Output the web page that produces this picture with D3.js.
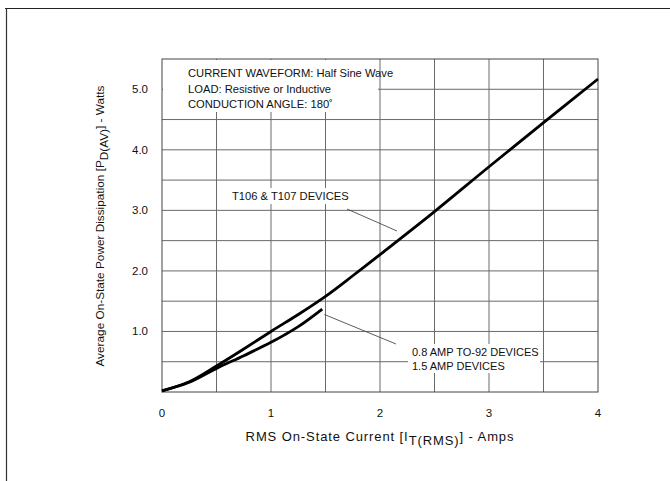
<!DOCTYPE html>
<html>
<head>
<meta charset="utf-8">
<script src="https://cdn.jsdelivr.net/npm/d3@7"></script>
<style>
  html, body { margin: 0; padding: 0; background: #fff; }
  svg { display: block; }
  text { font-family: "Liberation Sans", Arial, Helvetica, sans-serif; fill: #111; }
</style>
</head>
<body>
<svg id="chart" width="670" height="481"></svg>
<script>
// ---- data ----
const xTicks = [0, 1, 2, 3, 4];
const yTicks = [1.0, 2.0, 3.0, 4.0, 5.0];
const xGrid = [0.5, 1, 1.5, 2, 2.5, 3, 3.5];
const yGrid = [0.5, 1, 1.5, 2, 2.5, 3, 3.5, 4, 4.5, 5];

const t106Current = [0, 0.25, 0.5, 0.75, 1.0, 1.25, 1.5, 1.75, 2.0, 2.5, 3.0, 3.5, 4.0];
const t106Power   = [0.02, 0.17, 0.43, 0.71, 1.0, 1.28, 1.58, 1.92, 2.27, 2.98, 3.72, 4.45, 5.17];

const to92Current = [0, 0.25, 0.5, 0.75, 1.0, 1.25, 1.47];
const to92Power   = [0.02, 0.16, 0.39, 0.6, 0.82, 1.08, 1.37];

const conditionLines = ["CURRENT WAVEFORM: Half Sine Wave", "LOAD: Resistive or Inductive", "CONDUCTION ANGLE: 180˚"];
const t106Label = "T106 & T107 DEVICES";
const to92Labels = ["0.8 AMP TO-92 DEVICES", "1.5 AMP DEVICES"];

// ---- layout ----
const svg = d3.select("#chart");
const L = 162, R = 598, T = 59, B = 392;
const x = d3.scaleLinear().domain([0, 4]).range([L, R]);
const y = d3.scaleLinear().domain([0, 5.5]).range([B, T]);

// outer frame (scanned page edge)
svg.append("line").attr("x1", 5).attr("x2", 670).attr("y1", 8.5).attr("y2", 8.5)
  .attr("stroke", "#222").attr("stroke-width", 1.2);
svg.append("line").attr("x1", 6.5).attr("x2", 6.5).attr("y1", 8).attr("y2", 481)
  .attr("stroke", "#333").attr("stroke-width", 1.2);

// grid
const g = svg.append("g");
g.selectAll(".vg").data(xGrid).join("line")
  .attr("x1", d => x(d)).attr("x2", d => x(d)).attr("y1", T).attr("y2", B)
  .attr("stroke", "#6a6a6a").attr("stroke-width", 1);
g.selectAll(".hg").data(yGrid).join("line")
  .attr("x1", L).attr("x2", R).attr("y1", d => y(d)).attr("y2", d => y(d))
  .attr("stroke", "#6a6a6a").attr("stroke-width", 1);

// plot border
svg.append("rect").attr("x", L).attr("y", T).attr("width", R - L).attr("height", B - T)
  .attr("fill", "none").attr("stroke", "#444").attr("stroke-width", 1);

// white boxes behind annotations
function whiteBox(x0, y0, w, h) {
  svg.append("rect").attr("x", x0).attr("y", y0).attr("width", w).attr("height", h).attr("fill", "#fff");
}
whiteBox(L + 1, T + 1, 215, 52);
whiteBox(226, 188, 150, 16);
whiteBox(408, 344, 132, 29);

// condition text
svg.append("g").selectAll("text").data(conditionLines).join("text")
  .attr("x", 188).attr("y", (d, i) => 77 + i * 15.5)
  .attr("font-size", 11.2).text(d => d);

// curves
const line = d3.line().x(d => x(d[0])).y(d => y(d[1])).curve(d3.curveCatmullRom.alpha(0.5));
svg.append("path").datum(d3.zip(t106Current, t106Power)).attr("d", line)
  .attr("fill", "none").attr("stroke", "#000").attr("stroke-width", 2.8);
svg.append("path").datum(d3.zip(to92Current, to92Power)).attr("d", line)
  .attr("fill", "none").attr("stroke", "#000").attr("stroke-width", 2.8);

// labels & leaders
svg.append("text").attr("x", 232).attr("y", 200).attr("font-size", 11.2).text(t106Label);
svg.append("line").attr("x1", 347).attr("y1", 209).attr("x2", 397).attr("y2", 231)
  .attr("stroke", "#333").attr("stroke-width", 0.8);
svg.append("line").attr("x1", x(1.49)).attr("y1", y(1.28)).attr("x2", 396).attr("y2", 344)
  .attr("stroke", "#333").attr("stroke-width", 0.8);
svg.append("g").selectAll("text").data(to92Labels).join("text")
  .attr("x", 412).attr("y", (d, i) => 356 + i * 14)
  .attr("font-size", 11).text(d => d);

// tick labels
svg.append("g").selectAll("text").data(xTicks).join("text")
  .attr("x", d => x(d)).attr("y", 417).attr("text-anchor", "middle")
  .attr("font-size", 11.5).text(d => d);
svg.append("g").selectAll("text").data(yTicks).join("text")
  .attr("x", 148).attr("y", d => y(d) + 4).attr("text-anchor", "end")
  .attr("font-size", 11.5).text(d => d.toFixed(1));

// axis titles
const xt = svg.append("text").attr("x", 380).attr("y", 441).attr("text-anchor", "middle")
  .attr("font-size", 13).attr("letter-spacing", 0.9);
xt.append("tspan").text("RMS On-State Current [I");
xt.append("tspan").attr("dy", 4).text("T(RMS)");
xt.append("tspan").attr("dy", -4).text("] - Amps");

const yt = svg.append("text").attr("transform", "translate(104,226) rotate(-90)")
  .attr("text-anchor", "middle").attr("font-size", 11.8);
yt.append("tspan").text("Average On-State Power Dissipation [P");
yt.append("tspan").attr("dy", 4).text("D(AV)");
yt.append("tspan").attr("dy", -4).text("] - Watts");
</script>
</body>
</html>
